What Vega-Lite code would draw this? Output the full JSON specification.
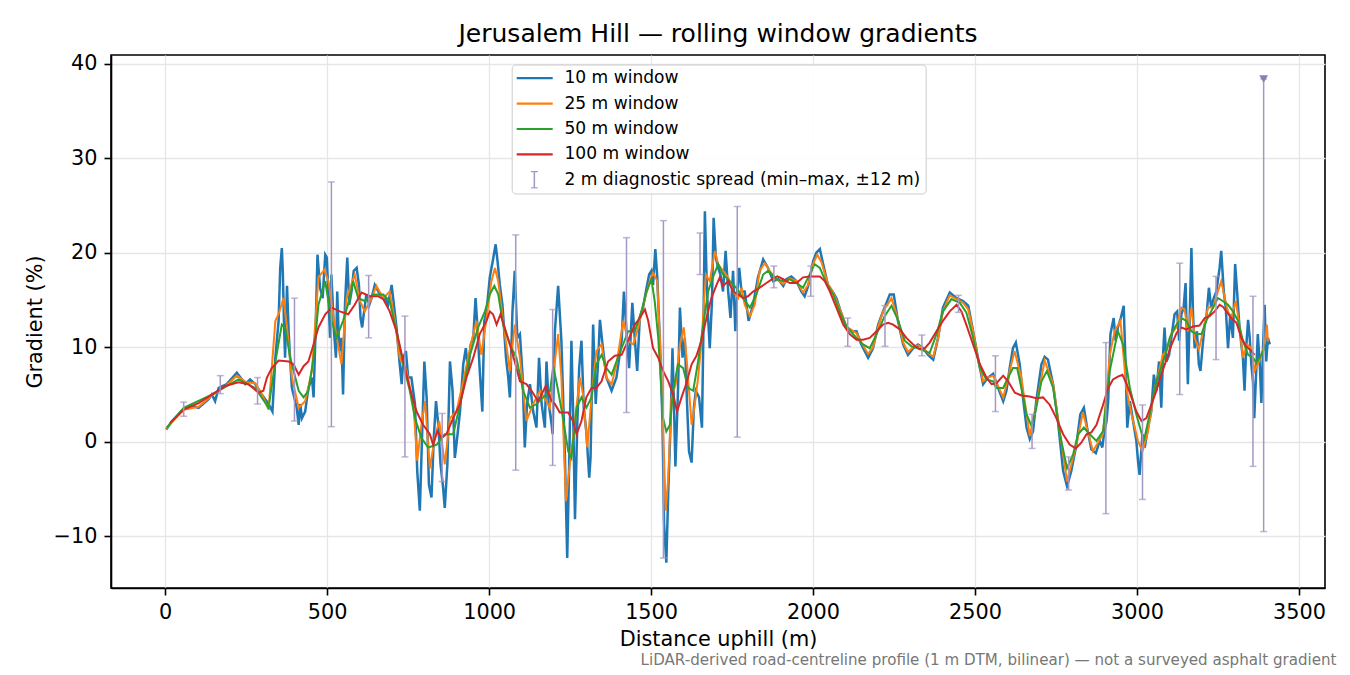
{
  "$schema": "https://vega.github.io/schema/vega-lite/v6.json",
  "padding": {"left": 23, "top": 21, "right": 10, "bottom": 4},
  "title": {
    "text": "LiDAR-derived road-centreline profile (1 m DTM, bilinear) — not a surveyed asphalt gradient",
    "orient": "bottom", "anchor": "end", "frame": "group", "dx": 11.5, "offset": 3,
    "font": "DejaVu Sans", "fontSize": 15.1, "fontWeight": "normal", "color": "#777777"
  },
  "datasets": {
    "w10": [
      {"d":3,"g":1.3},{"d":21,"g":2.2},{"d":57,"g":3.5},{"d":82,"g":3.8},{"d":103,"g":3.6},{"d":134,"g":4.5},{"d":144,"g":5.0},{"d":154,"g":4.3},{"d":165,"g":5.7},{"d":190,"g":6.1},{"d":221,"g":7.3},{"d":237,"g":6.6},{"d":247,"g":6.1},{"d":262,"g":6.6},{"d":278,"g":6.1},{"d":298,"g":5.0},{"d":319,"g":4.0},{"d":331,"g":3.2},{"d":340,"g":8.9},{"d":350,"g":12.8},{"d":355,"g":18.4},{"d":360,"g":20.5},{"d":363,"g":18.0},{"d":367,"g":12.1},{"d":370,"g":8.9},{"d":376,"g":16.5},{"d":381,"g":11.7},{"d":386,"g":8.5},{"d":391,"g":5.7},{"d":406,"g":3.6},{"d":412,"g":1.8},{"d":417,"g":4.0},{"d":422,"g":2.5},{"d":432,"g":3.2},{"d":442,"g":5.7},{"d":453,"g":6.8},{"d":458,"g":4.7},{"d":465,"g":12.8},{"d":470,"g":19.8},{"d":478,"g":16.3},{"d":486,"g":15.2},{"d":494,"g":19.8},{"d":499,"g":19.5},{"d":504,"g":15.2},{"d":509,"g":11.0},
      {"d":513,"g":17.7},{"d":521,"g":11.7},{"d":527,"g":8.9},{"d":531,"g":15.9},{"d":537,"g":9.6},{"d":544,"g":11.0},{"d":549,"g":5.0},{"d":555,"g":14.5},{"d":562,"g":19.5},{"d":568,"g":14.5},{"d":575,"g":15.9},{"d":582,"g":18.1},{"d":591,"g":18.4},{"d":598,"g":16.6},{"d":603,"g":13.1},{"d":608,"g":12.1},{"d":614,"g":13.8},{"d":621,"g":15.6},{"d":630,"g":14.5},{"d":637,"g":15.2},{"d":647,"g":16.6},{"d":663,"g":15.6},{"d":678,"g":15.2},{"d":688,"g":14.5},{"d":699,"g":16.6},{"d":706,"g":14.5},{"d":714,"g":12.1},{"d":724,"g":8.2},{"d":730,"g":6.1},{"d":735,"g":8.9},{"d":743,"g":9.6},{"d":750,"g":6.8},{"d":760,"g":6.8},{"d":771,"g":4.0},{"d":778,"g":-3.1},{"d":786,"g":-7.3},{"d":794,"g":1.8},{"d":800,"g":8.5},{"d":807,"g":4.7},{"d":814,"g":-4.5},{"d":822,"g":-5.9},{"d":829,"g":0.4},{"d":836,"g":4.3},{"d":843,"g":1.8},{"d":850,"g":-2.4},{"d":858,"g":-4.9},{"d":863,"g":-7.0},{"d":871,"g":-2.4},{"d":879,"g":8.5},{"d":887,"g":5.4},{"d":894,"g":-1.7},{"d":899,"g":-0.3},{"d":910,"g":3.2},{"d":920,"g":8.2},{"d":928,"g":9.9},{"d":935,"g":7.5},{"d":943,"g":10.3},{"d":951,"g":11.0},{"d":958,"g":15.2},{"d":964,"g":12.1},{"d":971,"g":7.5},{"d":979,"g":3.2},{"d":985,"g":12.8},{"d":992,"g":13.8},{"d":1002,"g":17.4},{"d":1012,"g":19.3},{"d":1020,"g":20.9},{"d":1026,"g":19.1},{"d":1033,"g":16.6},{"d":1041,"g":14.5},{"d":1052,"g":8.9},{"d":1059,"g":6.8},{"d":1064,"g":4.7},{"d":1072,"g":13.8},{"d":1079,"g":18.1},{"d":1087,"g":11.0},{"d":1095,"g":11.4},{"d":1103,"g":7.1},{"d":1110,"g":-0.6},{"d":1117,"g":4.0},{"d":1126,"g":6.1},{"d":1136,"g":3.2},{"d":1146,"g":1.5},{"d":1154,"g":8.9},{"d":1162,"g":4.0},{"d":1172,"g":1.5},{"d":1177,"g":8.5},{"d":1184,"g":4.0},{"d":1193,"g":1.8},
      {"d":1196,"g":0.8},{"d":1203,"g":11.7},{"d":1213,"g":16.5},{"d":1223,"g":10.7},{"d":1234,"g":-1.7},{"d":1241,"g":-12.3},{"d":1247,"g":-2.4},{"d":1254,"g":10.7},{"d":1259,"g":3.5},{"d":1265,"g":-8.2},{"d":1272,"g":1.8},{"d":1278,"g":7.8},{"d":1285,"g":10.7},{"d":1292,"g":3.6},{"d":1300,"g":1.1},{"d":1309,"g":-3.8},{"d":1313,"g":-1.7},{"d":1321,"g":12.4},{"d":1329,"g":4.0},{"d":1337,"g":8.9},{"d":1342,"g":12.9},{"d":1350,"g":10.3},{"d":1362,"g":6.8},{"d":1378,"g":5.4},{"d":1393,"g":6.8},{"d":1409,"g":10.7},{"d":1416,"g":15.9},{"d":1424,"g":11.7},{"d":1432,"g":7.8},{"d":1442,"g":14.7},{"d":1450,"g":10.7},{"d":1457,"g":7.5},{"d":1465,"g":13.1},{"d":1475,"g":14.2},{"d":1486,"g":16.3},{"d":1494,"g":17.7},{"d":1501,"g":18.1},{"d":1506,"g":16.6},{"d":1513,"g":20.4},{"d":1519,"g":17.4},{"d":1527,"g":10.7},{"d":1535,"g":2.2},{"d":1540,"g":-8.7},{"d":1547,"g":-12.8},{"d":1553,"g":-5.2},{"d":1560,"g":1.8},{"d":1566,"g":9.9},{"d":1570,"g":4.7},{"d":1575,"g":-2.6},{"d":1583,"g":5.4},{"d":1589,"g":14.2},{"d":1597,"g":8.9},{"d":1604,"g":11.0},{"d":1611,"g":4.0},{"d":1617,"g":-1.0},{"d":1625,"g":-2.2},{"d":1632,"g":3.6},{"d":1638,"g":5.4},{"d":1648,"g":4.7},{"d":1657,"g":1.5},{"d":1661,"g":10.7},{"d":1666,"g":24.4},{"d":1671,"g":17.7},{"d":1676,"g":13.1},{"d":1681,"g":9.9},{"d":1688,"g":14.9},{"d":1693,"g":23.7},{"d":1700,"g":19.5},{"d":1707,"g":18.4},{"d":1714,"g":17.7},{"d":1722,"g":15.9},{"d":1730,"g":20.2},{"d":1738,"g":15.9},{"d":1745,"g":13.1},{"d":1753,"g":18.1},{"d":1760,"g":11.7},{"d":1766,"g":15.9},{"d":1772,"g":18.4},{"d":1779,"g":15.9},{"d":1789,"g":15.9},{"d":1801,"g":12.8},{"d":1815,"g":14.5},{"d":1830,"g":17.4},{"d":1846,"g":19.3},{"d":1861,"g":18.4},
      {"d":1877,"g":17.0},{"d":1892,"g":17.2},{"d":1908,"g":16.5},{"d":1918,"g":17.2},{"d":1933,"g":17.5},{"d":1949,"g":17.0},{"d":1964,"g":15.9},{"d":1974,"g":15.4},{"d":1985,"g":16.5},{"d":2000,"g":19.1},{"d":2010,"g":20.0},{"d":2021,"g":20.4},{"d":2031,"g":18.8},{"d":2046,"g":16.6},{"d":2062,"g":15.8},{"d":2072,"g":15.2},{"d":2088,"g":13.5},{"d":2103,"g":12.1},{"d":2118,"g":11.7},{"d":2134,"g":11.7},{"d":2149,"g":10.3},{"d":2170,"g":8.9},{"d":2185,"g":9.9},{"d":2201,"g":12.4},{"d":2216,"g":13.8},{"d":2237,"g":15.6},{"d":2249,"g":15.6},{"d":2262,"g":12.8},{"d":2278,"g":10.3},{"d":2293,"g":9.2},{"d":2309,"g":9.9},{"d":2324,"g":10.3},{"d":2340,"g":9.9},{"d":2355,"g":9.2},{"d":2371,"g":8.7},{"d":2386,"g":11.0},{"d":2401,"g":14.2},{"d":2422,"g":15.8},{"d":2443,"g":15.2},{"d":2463,"g":14.9},{"d":2479,"g":14.4},{"d":2494,"g":11.7},{"d":2509,"g":8.9},{"d":2525,"g":6.1},
      {"d":2540,"g":6.8},{"d":2556,"g":7.2},{"d":2571,"g":5.7},{"d":2587,"g":4.3},{"d":2597,"g":5.4},{"d":2607,"g":7.8},{"d":2617,"g":9.9},{"d":2626,"g":10.5},{"d":2638,"g":8.2},{"d":2648,"g":4.7},{"d":2659,"g":1.5},{"d":2669,"g":0.3},{"d":2679,"g":1.1},{"d":2689,"g":4.3},{"d":2705,"g":8.2},{"d":2715,"g":9.0},{"d":2725,"g":8.7},{"d":2741,"g":6.1},{"d":2756,"g":2.2},{"d":2772,"g":-3.1},{"d":2784,"g":-4.7},{"d":2797,"g":-3.1},{"d":2813,"g":-0.3},{"d":2825,"g":2.9},{"d":2836,"g":3.6},{"d":2846,"g":1.5},{"d":2859,"g":-0.8},{"d":2873,"g":-1.2},{"d":2885,"g":0.1},{"d":2893,"g":-0.6},{"d":2898,"g":0.8},{"d":2906,"g":2.2},{"d":2911,"g":4.3},{"d":2918,"g":11.4},{"d":2924,"g":12.4},{"d":2928,"g":13.1},{"d":2934,"g":10.7},{"d":2941,"g":12.1},{"d":2950,"g":13.1},{"d":2959,"g":14.4},{"d":2965,"g":7.8},{"d":2970,"g":1.5},{"d":2978,"g":4.3},{"d":2988,"g":2.2},{"d":2998,"g":0.1},{"d":3003,"g":-2.0},{"d":3008,"g":-3.5},{"d":3017,"g":0.8},{"d":3024,"g":-0.6},{"d":3034,"g":1.5},{"d":3044,"g":3.2},{"d":3052,"g":7.1},{"d":3060,"g":5.4},{"d":3068,"g":8.5},
      {"d":3075,"g":3.6},{"d":3080,"g":8.9},{"d":3085,"g":12.1},{"d":3091,"g":8.5},{"d":3099,"g":9.2},{"d":3106,"g":11.0},{"d":3116,"g":13.5},{"d":3124,"g":13.8},{"d":3130,"g":10.7},{"d":3137,"g":13.5},{"d":3144,"g":14.2},{"d":3150,"g":16.8},{"d":3157,"g":6.1},{"d":3163,"g":13.5},{"d":3168,"g":20.5},{"d":3173,"g":13.5},{"d":3178,"g":9.9},{"d":3185,"g":11.7},{"d":3191,"g":8.2},{"d":3196,"g":7.5},{"d":3202,"g":9.9},{"d":3209,"g":12.4},{"d":3214,"g":13.1},{"d":3222,"g":16.3},{"d":3229,"g":14.2},{"d":3237,"g":15.2},{"d":3245,"g":15.9},{"d":3255,"g":18.4},{"d":3260,"g":20.2},{"d":3268,"g":15.9},{"d":3274,"g":14.2},{"d":3281,"g":9.9},{"d":3288,"g":13.5},{"d":3296,"g":11.0},{"d":3303,"g":18.8},{"d":3309,"g":15.9},{"d":3315,"g":12.8},{"d":3322,"g":10.3},{"d":3327,"g":8.9},{"d":3332,"g":5.4},{"d":3337,"g":9.9},{"d":3343,"g":12.9},{"d":3348,"g":11.0},{"d":3353,"g":8.2},{"d":3358,"g":6.4},{"d":3362,"g":2.5},{"d":3368,"g":7.5},{"d":3373,"g":11.4},{"d":3379,"g":8.2},{"d":3384,"g":4.1},{"d":3389,"g":9.9},{"d":3394,"g":14.5},{"d":3399,"g":8.5},{"d":3404,"g":11.0},{"d":3410,"g":10.3}
    ],
    "w25": [
      {"d":3,"g":1.4},{"d":57,"g":3.4},{"d":103,"g":3.7},{"d":144,"g":4.9},{"d":190,"g":6.0},{"d":221,"g":7.0},{"d":250,"g":6.3},{"d":278,"g":6.2},{"d":298,"g":5.1},{"d":319,"g":3.4},{"d":340,"g":12.8},{"d":350,"g":13.5},{"d":365,"g":15.2},{"d":376,"g":12.1},{"d":391,"g":6.8},{"d":412,"g":3.6},{"d":432,"g":4.3},{"d":453,"g":7.5},{"d":473,"g":17.4},{"d":491,"g":18.2},{"d":504,"g":17.0},{"d":524,"g":12.1},{"d":544,"g":8.2},{"d":560,"g":15.2},{"d":585,"g":17.7},{"d":601,"g":14.9},{"d":616,"g":13.8},{"d":637,"g":15.2},{"d":652,"g":16.5},{"d":673,"g":15.2},{"d":693,"g":15.9},{"d":709,"g":12.8},{"d":724,"g":8.9},{"d":745,"g":7.5},{"d":766,"g":4.0},{"d":778,"g":-2.0},{"d":791,"g":1.8},{"d":802,"g":4.3},{"d":817,"g":-2.8},{"d":832,"g":0.4},{"d":846,"g":2.2},{"d":863,"g":-2.4},{"d":879,"g":2.5},{"d":899,"g":3.2},{"d":920,"g":6.4},{"d":946,"g":10.7},{"d":961,"g":12.8},{"d":976,"g":9.2},{"d":992,"g":13.1},{"d":1007,"g":17.0},{"d":1018,"g":18.4},{"d":1028,"g":17.0},{"d":1043,"g":12.8},{"d":1064,"g":7.5},{"d":1079,"g":12.4},{"d":1095,"g":8.9},{"d":1115,"g":2.2},{"d":1136,"g":4.0},{"d":1157,"g":5.4},{"d":1177,"g":4.3},
      {"d":1187,"g":3.6},{"d":1198,"g":7.1},{"d":1213,"g":11.4},{"d":1223,"g":6.8},{"d":1237,"g":-6.3},{"d":1249,"g":-2.4},{"d":1261,"g":1.1},{"d":1280,"g":6.8},{"d":1290,"g":5.0},{"d":1303,"g":-0.6},{"d":1316,"g":4.7},{"d":1331,"g":9.6},{"d":1347,"g":10.3},{"d":1362,"g":6.8},{"d":1378,"g":6.1},{"d":1393,"g":8.2},{"d":1414,"g":12.8},{"d":1429,"g":10.7},{"d":1445,"g":10.3},{"d":1460,"g":12.1},{"d":1481,"g":15.2},{"d":1496,"g":17.0},{"d":1506,"g":17.9},{"d":1519,"g":17.0},{"d":1532,"g":7.1},{"d":1540,"g":-1.7},{"d":1545,"g":-7.3},{"d":1553,"g":-3.8},{"d":1563,"g":4.7},{"d":1576,"g":6.1},{"d":1589,"g":10.3},{"d":1601,"g":12.1},{"d":1611,"g":8.2},{"d":1625,"g":1.8},{"d":1635,"g":4.0},{"d":1645,"g":6.8},{"d":1655,"g":10.3},{"d":1669,"g":17.7},{"d":1681,"g":17.0},{"d":1697,"g":20.2},{"d":1707,"g":18.8},{"d":1722,"g":18.1},{"d":1738,"g":17.4},{"d":1753,"g":15.9},{"d":1769,"g":15.2},{"d":1779,"g":16.3},{"d":1789,"g":14.5},{"d":1805,"g":13.3},{"d":1820,"g":14.5},{"d":1835,"g":18.1},{"d":1851,"g":18.9},{"d":1866,"g":18.1},
      {"d":1887,"g":17.2},{"d":1908,"g":16.7},{"d":1928,"g":17.3},{"d":1949,"g":17.0},{"d":1969,"g":15.8},{"d":1985,"g":16.6},{"d":2000,"g":18.8},{"d":2013,"g":19.8},{"d":2026,"g":19.0},{"d":2046,"g":16.7},{"d":2062,"g":15.8},{"d":2088,"g":13.6},{"d":2103,"g":12.2},{"d":2134,"g":11.5},{"d":2149,"g":10.5},{"d":2170,"g":9.3},{"d":2185,"g":10.0},{"d":2201,"g":12.2},{"d":2216,"g":13.8},{"d":2242,"g":15.2},{"d":2262,"g":13.0},{"d":2278,"g":10.5},{"d":2293,"g":9.5},{"d":2309,"g":10.0},{"d":2324,"g":10.2},{"d":2340,"g":9.9},{"d":2355,"g":9.4},{"d":2371,"g":9.0},{"d":2386,"g":11.0},{"d":2401,"g":13.8},{"d":2422,"g":15.5},{"d":2443,"g":15.1},{"d":2463,"g":14.7},{"d":2479,"g":14.0},{"d":2494,"g":11.7},{"d":2509,"g":8.9},{"d":2525,"g":6.4},{"d":2540,"g":6.8},
      {"d":2556,"g":7.0},{"d":2571,"g":5.9},{"d":2587,"g":4.7},{"d":2607,"g":7.5},{"d":2622,"g":9.6},{"d":2643,"g":6.8},{"d":2669,"g":0.6},{"d":2689,"g":3.9},{"d":2715,"g":8.6},{"d":2741,"g":6.1},{"d":2784,"g":-4.2},{"d":2813,"g":-0.3},{"d":2833,"g":3.1},{"d":2864,"g":-1.0},{"d":2895,"g":0.8},{"d":2916,"g":9.2},{"d":2931,"g":11.7},{"d":2949,"g":12.8},{"d":2967,"g":5.7},{"d":2983,"g":2.9},{"d":3003,"g":0.1},{"d":3017,"g":-1.0},{"d":3034,"g":1.1},{"d":3055,"g":5.7},{"d":3080,"g":9.2},
      {"d":3091,"g":9.6},{"d":3106,"g":11.4},{"d":3121,"g":12.1},{"d":3137,"g":14.2},{"d":3147,"g":14.0},{"d":3157,"g":11.7},{"d":3168,"g":14.2},{"d":3178,"g":11.0},{"d":3191,"g":9.8},{"d":3204,"g":11.7},{"d":3219,"g":14.2},{"d":3235,"g":14.2},{"d":3247,"g":15.6},{"d":3260,"g":17.0},{"d":3271,"g":15.2},{"d":3281,"g":13.8},{"d":3291,"g":13.1},{"d":3305,"g":14.9},{"d":3317,"g":12.1},{"d":3327,"g":8.9},{"d":3340,"g":10.3},{"d":3353,"g":9.9},{"d":3363,"g":7.5},{"d":3373,"g":8.2},{"d":3384,"g":9.2},{"d":3394,"g":10.3},{"d":3401,"g":12.4},{"d":3404,"g":10.6}
    ],
    "w50": [
      {"d":5,"g":1.5},{"d":57,"g":3.6},{"d":144,"g":5.0},{"d":226,"g":6.6},{"d":278,"g":5.7},{"d":319,"g":3.6},{"d":340,"g":8.5},{"d":360,"g":12.4},{"d":370,"g":12.1},{"d":386,"g":8.9},{"d":412,"g":5.4},{"d":427,"g":4.7},{"d":442,"g":5.4},{"d":458,"g":8.9},{"d":473,"g":14.5},{"d":494,"g":17.0},{"d":512,"g":13.0},{"d":529,"g":11.0},{"d":549,"g":12.8},{"d":570,"g":15.2},{"d":580,"g":17.0},{"d":596,"g":15.2},{"d":616,"g":14.9},{"d":642,"g":15.6},{"d":673,"g":15.6},{"d":693,"g":14.9},{"d":714,"g":11.7},{"d":735,"g":8.2},{"d":755,"g":5.4},{"d":771,"g":2.5},{"d":791,"g":0.4},{"d":812,"g":-0.6},{"d":838,"g":-0.3},{"d":863,"g":0.8},{"d":889,"g":0.8},{"d":915,"g":4.7},{"d":941,"g":9.2},{"d":966,"g":12.1},{"d":987,"g":13.8},{"d":1002,"g":15.6},{"d":1016,"g":16.5},{"d":1028,"g":15.6},{"d":1043,"g":12.4},{"d":1064,"g":10.3},{"d":1084,"g":8.9},{"d":1105,"g":5.4},{"d":1126,"g":3.6},{"d":1146,"g":4.0},{"d":1167,"g":4.7},{"d":1188,"g":5.4},
      {"d":1198,"g":8.0},{"d":1213,"g":5.4},{"d":1228,"g":2.5},{"d":1244,"g":-1.0},{"d":1254,"g":-1.7},{"d":1270,"g":3.6},{"d":1285,"g":4.7},{"d":1300,"g":3.6},{"d":1316,"g":4.7},{"d":1331,"g":8.2},{"d":1347,"g":9.2},{"d":1362,"g":7.8},{"d":1378,"g":7.1},{"d":1393,"g":8.5},{"d":1409,"g":9.9},{"d":1429,"g":11.7},{"d":1450,"g":11.7},{"d":1470,"g":13.8},{"d":1486,"g":15.9},{"d":1501,"g":17.2},{"d":1511,"g":14.9},{"d":1522,"g":11.0},{"d":1537,"g":2.5},{"d":1547,"g":1.1},{"d":1558,"g":1.8},{"d":1568,"g":5.4},{"d":1583,"g":8.2},{"d":1599,"g":7.8},{"d":1614,"g":5.7},{"d":1630,"g":5.4},{"d":1645,"g":8.5},{"d":1661,"g":12.4},{"d":1676,"g":15.9},{"d":1691,"g":17.4},{"d":1707,"g":18.8},{"d":1722,"g":17.7},{"d":1743,"g":17.0},{"d":1763,"g":16.3},{"d":1784,"g":15.2},{"d":1805,"g":14.2},{"d":1825,"g":15.6},{"d":1846,"g":17.7},{"d":1861,"g":18.1},
      {"d":1887,"g":17.2},{"d":1908,"g":17.0},{"d":1928,"g":17.2},{"d":1949,"g":16.8},{"d":1969,"g":16.3},{"d":1985,"g":17.4},{"d":2005,"g":18.8},{"d":2021,"g":18.4},{"d":2041,"g":16.8},{"d":2062,"g":15.6},{"d":2082,"g":13.8},{"d":2103,"g":12.2},{"d":2134,"g":11.0},{"d":2154,"g":10.3},{"d":2175,"g":9.9},{"d":2196,"g":11.4},{"d":2221,"g":13.3},{"d":2242,"g":14.4},{"d":2262,"g":12.9},{"d":2283,"g":10.7},{"d":2304,"g":10.1},{"d":2324,"g":9.9},{"d":2345,"g":9.6},{"d":2360,"g":9.4},{"d":2381,"g":11.4},{"d":2401,"g":13.8},{"d":2427,"g":15.1},{"d":2453,"g":14.7},{"d":2473,"g":13.7},{"d":2494,"g":11.0},{"d":2515,"g":7.8},{"d":2535,"g":6.6},{"d":2556,"g":6.4},
      {"d":2565,"g":5.7},{"d":2587,"g":5.7},{"d":2602,"g":6.8},{"d":2617,"g":7.8},{"d":2630,"g":7.8},{"d":2643,"g":5.7},{"d":2659,"g":2.9},{"d":2674,"g":1.7},{"d":2689,"g":3.6},{"d":2705,"g":6.4},{"d":2722,"g":7.5},{"d":2741,"g":5.7},{"d":2762,"g":0.8},{"d":2784,"g":-2.8},{"d":2803,"g":-1.3},{"d":2818,"g":0.8},{"d":2836,"g":1.5},{"d":2854,"g":0.8},{"d":2875,"g":0.1},{"d":2895,"g":1.1},{"d":2916,"g":7.5},{"d":2941,"g":11.7},{"d":2957,"g":10.3},{"d":2978,"g":5.7},{"d":2998,"g":2.9},{"d":3021,"g":0.1},{"d":3039,"g":2.9},{"d":3060,"g":6.4},
      {"d":3085,"g":8.9},{"d":3101,"g":11.0},{"d":3116,"g":12.1},{"d":3137,"g":13.1},{"d":3152,"g":12.8},{"d":3168,"g":11.7},{"d":3183,"g":11.4},{"d":3199,"g":11.4},{"d":3214,"g":12.8},{"d":3235,"g":14.2},{"d":3250,"g":15.2},{"d":3265,"g":14.9},{"d":3281,"g":14.5},{"d":3296,"g":13.8},{"d":3312,"g":12.8},{"d":3327,"g":10.7},{"d":3343,"g":9.2},{"d":3358,"g":8.9},{"d":3368,"g":8.4},{"d":3379,"g":8.9},{"d":3389,"g":9.6},{"d":3397,"g":10.3}
    ],
    "w100": [
      {"d":15,"g":2.0},{"d":57,"g":3.4},{"d":103,"g":4.1},{"d":144,"g":5.0},{"d":185,"g":5.9},{"d":226,"g":6.3},{"d":257,"g":6.1},{"d":288,"g":5.2},{"d":303,"g":5.4},{"d":314,"g":6.8},{"d":329,"g":7.8},{"d":350,"g":8.6},{"d":381,"g":8.5},{"d":396,"g":8.2},{"d":412,"g":7.1},{"d":427,"g":8.0},{"d":442,"g":8.5},{"d":458,"g":10.3},{"d":473,"g":12.1},{"d":494,"g":13.5},{"d":514,"g":14.2},{"d":539,"g":13.8},{"d":565,"g":13.5},{"d":585,"g":14.5},{"d":606,"g":15.8},{"d":632,"g":15.4},{"d":658,"g":15.4},{"d":673,"g":15.1},{"d":693,"g":13.8},{"d":714,"g":11.7},{"d":735,"g":8.5},{"d":755,"g":5.7},{"d":776,"g":3.2},{"d":796,"g":1.8},{"d":817,"g":0.8},{"d":827,"g":-0.3},{"d":840,"g":1.1},{"d":853,"g":0.4},{"d":868,"g":0.8},{"d":889,"g":2.5},{"d":910,"g":4.0},{"d":930,"g":6.8},{"d":951,"g":8.9},{"d":971,"g":11.4},{"d":992,"g":12.8},{"d":1002,"g":13.8},{"d":1012,"g":13.5},{"d":1023,"g":12.4},{"d":1035,"g":13.5},{"d":1048,"g":12.1},{"d":1064,"g":10.3},{"d":1079,"g":8.5},{"d":1095,"g":6.4},{"d":1115,"g":6.1},{"d":1131,"g":5.4},{"d":1151,"g":4.3},{"d":1175,"g":5.9},{"d":1193,"g":4.3},
      {"d":1203,"g":4.0},{"d":1218,"g":3.1},{"d":1244,"g":3.1},{"d":1259,"g":2.2},{"d":1270,"g":0.8},{"d":1285,"g":2.2},{"d":1300,"g":4.7},{"d":1316,"g":5.7},{"d":1331,"g":5.7},{"d":1347,"g":6.4},{"d":1367,"g":8.5},{"d":1388,"g":9.1},{"d":1409,"g":9.2},{"d":1429,"g":10.7},{"d":1450,"g":12.4},{"d":1465,"g":13.1},{"d":1481,"g":14.0},{"d":1491,"g":12.8},{"d":1506,"g":9.9},{"d":1522,"g":8.9},{"d":1537,"g":7.5},{"d":1553,"g":6.4},{"d":1568,"g":5.0},{"d":1580,"g":3.2},{"d":1594,"g":4.7},{"d":1609,"g":6.2},{"d":1625,"g":8.2},{"d":1640,"g":9.1},{"d":1655,"g":10.7},{"d":1671,"g":13.1},{"d":1686,"g":15.2},{"d":1702,"g":16.6},{"d":1712,"g":17.4},{"d":1722,"g":16.5},{"d":1738,"g":17.0},{"d":1753,"g":15.9},{"d":1769,"g":15.6},{"d":1784,"g":15.2},{"d":1799,"g":15.4},{"d":1815,"g":15.9},{"d":1835,"g":16.3},{"d":1856,"g":16.8},
      {"d":1877,"g":17.3},{"d":1890,"g":17.5},{"d":1908,"g":17.2},{"d":1928,"g":16.8},{"d":1949,"g":16.8},{"d":1969,"g":17.4},{"d":1990,"g":17.5},{"d":2021,"g":17.5},{"d":2036,"g":17.0},{"d":2052,"g":15.9},{"d":2072,"g":14.2},{"d":2093,"g":12.4},{"d":2113,"g":11.4},{"d":2134,"g":10.8},{"d":2154,"g":10.8},{"d":2175,"g":11.0},{"d":2196,"g":11.7},{"d":2216,"g":12.4},{"d":2232,"g":12.6},{"d":2247,"g":12.4},{"d":2268,"g":11.9},{"d":2288,"g":11.0},{"d":2309,"g":10.3},{"d":2329,"g":9.8},{"d":2345,"g":9.9},{"d":2360,"g":10.5},{"d":2381,"g":11.7},{"d":2401,"g":12.8},{"d":2422,"g":13.8},{"d":2443,"g":14.5},{"d":2458,"g":13.8},{"d":2473,"g":12.4},{"d":2494,"g":10.3},{"d":2515,"g":8.2},{"d":2535,"g":6.8},{"d":2551,"g":6.1},
      {"d":2566,"g":6.2},{"d":2587,"g":7.0},{"d":2602,"g":6.4},{"d":2623,"g":5.2},{"d":2643,"g":4.9},{"d":2669,"g":4.8},{"d":2689,"g":4.6},{"d":2710,"g":4.7},{"d":2731,"g":3.9},{"d":2751,"g":2.5},{"d":2772,"g":0.8},{"d":2792,"g":-0.3},{"d":2811,"g":-0.7},{"d":2828,"g":-0.1},{"d":2844,"g":0.8},{"d":2859,"g":1.0},{"d":2875,"g":1.8},{"d":2895,"g":3.9},{"d":2911,"g":5.7},{"d":2926,"g":6.6},{"d":2941,"g":6.9},{"d":2955,"g":7.1},{"d":2967,"g":6.2},{"d":2983,"g":4.7},{"d":2998,"g":3.2},{"d":3014,"g":2.2},{"d":3029,"g":2.5},{"d":3044,"g":3.9},{"d":3060,"g":5.4},{"d":3075,"g":7.1},
      {"d":3091,"g":8.7},{"d":3106,"g":10.2},{"d":3122,"g":11.5},{"d":3137,"g":12.1},{"d":3152,"g":11.9},{"d":3173,"g":12.2},{"d":3193,"g":12.3},{"d":3209,"g":13.1},{"d":3224,"g":13.3},{"d":3240,"g":13.8},{"d":3255,"g":14.5},{"d":3265,"g":14.3},{"d":3276,"g":13.8},{"d":3291,"g":13.1},{"d":3307,"g":12.6},{"d":3322,"g":11.0},{"d":3337,"g":10.1},{"d":3353,"g":9.6},{"d":3363,"g":9.2}
    ],
    "spread": [
      {"d":57,"lo":2.7,"hi":4.2},{"d":170,"lo":5.1,"hi":7.0},{"d":285,"lo":4.0,"hi":6.8},{"d":399,"lo":2.2,"hi":15.2},{"d":513,"lo":1.6,"hi":27.5},{"d":628,"lo":11.0,"hi":17.6},{"d":740,"lo":-1.6,"hi":13.3},{"d":855,"lo":-4.2,"hi":3.0},{"d":1082,"lo":-3.0,"hi":21.9},{"d":1196,"lo":-2.5,"hi":14.0},{"d":1424,"lo":3.1,"hi":21.6},{"d":1538,"lo":-12.3,"hi":23.4},{"d":1651,"lo":17.7,"hi":22.1},{"d":1766,"lo":0.5,"hi":24.9},{"d":1879,"lo":16.3,"hi":18.6},{"d":1993,"lo":15.4,"hi":18.6},{"d":2107,"lo":10.1,"hi":13.1},{"d":2222,"lo":10.1,"hi":14.4},{"d":2336,"lo":9.1,"hi":11.3},{"d":2449,"lo":13.7,"hi":15.5},{"d":2563,"lo":3.2,"hi":9.1},{"d":2676,"lo":-0.7,"hi":2.9},{"d":2789,"lo":-5.1,"hi":-1.6},{"d":2904,"lo":-7.6,"hi":10.5},{"d":3017,"lo":-6.1,"hi":3.9},{"d":3132,"lo":5.0,"hi":18.9},{"d":3244,"lo":8.7,"hi":17.5},{"d":3358,"lo":-2.6,"hi":15.4},{"d":3391,"lo":-9.5,"hi":38.4}
    ],
    "clipped": [{"d":3391,"g":38.4}]
  },
  "config": {
    "font": "DejaVu Sans",
    "view": {"stroke": "#000000", "strokeWidth": 1.6},
    "axis": {
      "domainColor": "#000000", "domainWidth": 1.6, "tickColor": "#000000", "tickWidth": 1.6, "tickSize": 7,
      "labelColor": "#000000", "labelFontSize": 20.8, "labelPadding": 7, "labelFont": "DejaVu Sans",
      "titleColor": "#000000", "titleFontSize": 20.8, "titleFontWeight": "normal", "titleFont": "DejaVu Sans",
      "gridColor": "#e6e6e6", "gridWidth": 1.3
    },
    "concat": {"spacing": 0}
  },
  "vconcat": [
    {
      "title": {
        "text": "Jerusalem Hill — rolling window gradients",
        "anchor": "middle", "frame": "group", "baseline": "alphabetic", "offset": -14.5,
        "font": "DejaVu Sans", "fontSize": 25, "fontWeight": "normal", "color": "#000000"
      },
      "width": 1214,
      "height": 533,
      "encoding": {
        "x": {
          "field": "d", "type": "quantitative",
          "scale": {"domain": [-167.4, 3580.4], "nice": false, "zero": false},
          "axis": {"title": "Distance uphill (m)", "values": [0, 500, 1000, 1500, 2000, 2500, 3000, 3500], "format": "d", "grid": true, "titlePadding": 8}
        }
      },
      "layer": [
        {
          "data": {"name": "w10"},
          "mark": {"type": "line", "strokeWidth": 2.5, "clip": true},
          "encoding": {
            "y": {
              "field": "g", "type": "quantitative", "title": "Gradient (%)",
              "scale": {"domain": [-15.47, 40.93], "nice": false, "zero": false},
              "axis": {"values": [-10, 0, 10, 20, 30, 40], "format": "d", "grid": true, "titlePadding": 8, "labelExpr": "replace(datum.label, '-', '−')"}
            },
            "color": {
              "datum": "10 m window", "type": "nominal",
              "scale": {
                "domain": ["10 m window", "25 m window", "50 m window", "100 m window", "2 m diagnostic spread (min–max, ±12 m)"],
                "range": ["#1f77b4", "#ff7f0e", "#2ca02c", "#d62728", "#a497c3"]
              },
              "legend": {
                "title": null, "orient": "none", "legendX": 400.7, "legendY": 9.5,
                "symbolType": "stroke", "symbolSize": 1347, "symbolStrokeWidth": 2.2, "symbolOffset": 9.1,
                "labelFont": "DejaVu Sans", "labelFontSize": 17.1, "labelColor": "#000000", "labelOffset": 21.5, "labelLimit": 0,
                "fillColor": "rgba(255,255,255,0.85)", "strokeColor": "#cccccc", "cornerRadius": 4, "padding": 5,
                "rowPadding": 6.4, "clipHeight": 17.4,
                "encode": {
                  "symbols": {
                    "update": {
                      "shape": {"signal": "datum.value === '2 m diagnostic spread (min–max, ±12 m)' ? 'M0,-0.45V0.45M-0.19,-0.45H0.19M-0.19,0.45H0.19' : 'stroke'"},
                      "strokeWidth": {"signal": "datum.value === '2 m diagnostic spread (min–max, ±12 m)' ? 1.5 : 2.2"}
                    }
                  }
                }
              }
            }
          }
        },
        {
          "data": {"name": "w25"},
          "mark": {"type": "line", "strokeWidth": 2.0, "clip": true},
          "encoding": {
            "y": {"field": "g", "type": "quantitative", "title": "Gradient (%)"},
            "color": {"datum": "25 m window", "type": "nominal"}
          }
        },
        {
          "data": {"name": "w50"},
          "mark": {"type": "line", "strokeWidth": 2.0, "clip": true},
          "encoding": {
            "y": {"field": "g", "type": "quantitative", "title": "Gradient (%)"},
            "color": {"datum": "50 m window", "type": "nominal"}
          }
        },
        {
          "data": {"name": "w100"},
          "mark": {"type": "line", "strokeWidth": 2.0, "clip": true},
          "encoding": {
            "y": {"field": "g", "type": "quantitative", "title": "Gradient (%)"},
            "color": {"datum": "100 m window", "type": "nominal"}
          }
        },
        {
          "data": {"name": "spread"},
          "mark": {"type": "rule", "strokeWidth": 1.5},
          "encoding": {
            "y": {"field": "lo", "type": "quantitative", "title": "Gradient (%)"},
            "y2": {"field": "hi"},
            "color": {"datum": "2 m diagnostic spread (min–max, ±12 m)", "type": "nominal"}
          }
        },
        {
          "data": {"name": "spread"},
          "mark": {"type": "tick", "orient": "horizontal", "size": 7, "thickness": 1.5},
          "encoding": {
            "y": {"field": "lo", "type": "quantitative", "title": "Gradient (%)"},
            "color": {"datum": "2 m diagnostic spread (min–max, ±12 m)", "type": "nominal"}
          }
        },
        {
          "data": {"name": "spread"},
          "mark": {"type": "tick", "orient": "horizontal", "size": 7, "thickness": 1.5},
          "encoding": {
            "y": {"field": "hi", "type": "quantitative", "title": "Gradient (%)"},
            "color": {"datum": "2 m diagnostic spread (min–max, ±12 m)", "type": "nominal"}
          }
        },
        {
          "data": {"name": "clipped"},
          "mark": {"type": "point", "shape": "triangle-down", "filled": true, "size": 75, "color": "#8a7cb6", "opacity": 1},
          "encoding": {
            "y": {"field": "g", "type": "quantitative", "title": "Gradient (%)"}
          }
        }
      ]
    }
  ]
}
